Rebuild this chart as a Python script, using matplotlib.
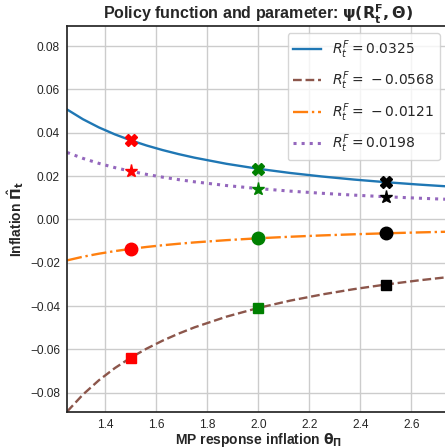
import matplotlib
matplotlib.use("Agg")
import matplotlib.pyplot as plt

# ---- data ----
theta = [1.25, 1.3125, 1.375, 1.4375, 1.5, 1.5625, 1.625, 1.6875, 1.75,
         1.875, 2.0, 2.125, 2.25, 2.375, 2.5, 2.625, 2.75]

pi_blue = [0.05078, 0.04626, 0.04248, 0.03928, 0.03652, 0.03412, 0.03202, 0.03016,
           0.02851, 0.02569, 0.02338, 0.02145, 0.01982, 0.01841, 0.01720, 0.01613, 0.01519]
pi_brown = [-0.08875, -0.08085, -0.07425, -0.06864, -0.06382, -0.05963, -0.05596, -0.05272,
            -0.04982, -0.04490, -0.04086, -0.03749, -0.03464, -0.03218, -0.03005, -0.02819, -0.02654]
pi_orange = [-0.01891, -0.01722, -0.01582, -0.01462, -0.01360, -0.01270, -0.01192, -0.01123,
             -0.01061, -0.00957, -0.00870, -0.00799, -0.00738, -0.00686, -0.00640, -0.00601, -0.00565]
pi_purple = [0.03094, 0.02819, 0.02588, 0.02393, 0.02225, 0.02079, 0.01951, 0.01838,
             0.01737, 0.01565, 0.01424, 0.01307, 0.01207, 0.01122, 0.01048, 0.00983, 0.00925]

shock_labels = ["0.0325", "-0.0568", "-0.0121", "0.0198"]
marker_theta = [1.5, 2.0, 2.5]
marker_colors = ["red", "green", "black"]

x_ticks = [1.4, 1.6, 1.8, 2.0, 2.2, 2.4, 2.6]
y_ticks = [-0.08, -0.06, -0.04, -0.02, 0.00, 0.02, 0.04, 0.06, 0.08]

# ---- style ----
plt.rcParams["font.family"] = ["Liberation Sans", "DejaVu Sans"]
plt.rcParams["mathtext.fontset"] = "dejavusans"

fig = plt.figure(figsize=(4.45, 4.48), dpi=100)
ax = fig.add_axes([67 / 445, 36 / 448, 382.5 / 445, 386 / 448])
ax.set_facecolor("white")

series = [
    (pi_blue, "tab:blue", "-", "X", 9),
    (pi_brown, "tab:brown", "--", "s", 6.5),
    (pi_orange, "tab:orange", "-.", "o", 9),
    (pi_purple, "tab:purple", ":", "*", 9.5),
]


def make_label(s):
    if s.startswith("-"):
        return r"$R_t^F = \,-%s$" % s[1:]
    return r"$R_t^F = %s$" % s


for (vals, col, ls, mk, ms), lab in zip(series, shock_labels):
    lw = 2.2 if ls == ":" else 1.7
    ax.plot(theta, vals, color=col, linestyle=ls, linewidth=lw,
            label=make_label(lab), zorder=2)
    for mt, mc in zip(marker_theta, marker_colors):
        i = theta.index(mt)
        ax.plot([theta[i]], [vals[i]], marker=mk, color=mc, markersize=ms,
                linestyle="none", zorder=3)

ax.set_xlim(1.25, 2.75)
ax.set_ylim(-0.0889, 0.0893)
ax.set_xticks(x_ticks)
ax.set_yticks(y_ticks)
ax.set_xticklabels(["{:.1f}".format(t) for t in x_ticks])
ax.set_yticklabels(["{:.2f}".format(t).replace("-", "\u2212") for t in y_ticks])

ax.grid(True, color="#cccccc", linewidth=1.0)
ax.set_axisbelow(True)
ax.tick_params(length=0, labelsize=8.6, colors="#262626")
ax.tick_params(axis="x", pad=5)
ax.tick_params(axis="y", pad=5)
for s in ax.spines.values():
    s.set_color("#262626")
    s.set_linewidth(1.25)

ax.set_title(r"Policy function and parameter: $\mathbf{\psi(R_t^F, \Theta)}$",
             fontsize=11.5, fontweight="bold", color="#262626", pad=3)
ax.set_xlabel(r"MP response inflation $\mathbf{\theta_\Pi}$", fontsize=10,
              fontweight="bold", color="#262626", labelpad=0)
ax.set_ylabel(r"Inflation $\mathbf{\hat{\Pi}_t}$", fontsize=10,
              fontweight="bold", color="#262626", labelpad=3)

leg = ax.legend(loc="upper right", prop={"family": "DejaVu Sans", "size": 10},
                frameon=True, fancybox=True, framealpha=0.8,
                edgecolor="#cccccc", handlelength=2.0, labelspacing=0.62,
                bbox_to_anchor=(0.9935, 1.0))
for t in leg.get_texts():
    t.set_color("#262626")

fig.savefig("out.png", dpi=100)
